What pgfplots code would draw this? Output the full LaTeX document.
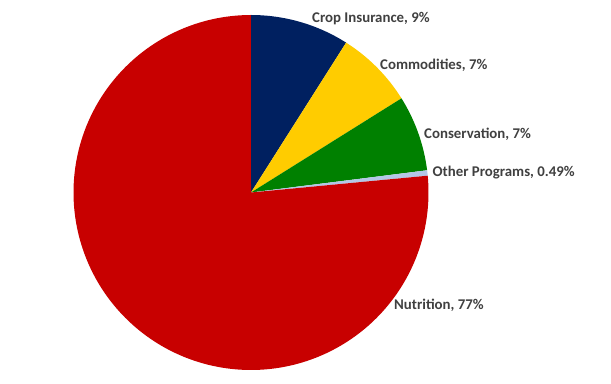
\documentclass[border=0pt]{standalone}
\usepackage{pgfplots}
\usepackage{pgfplotstable}
\pgfplotsset{compat=1.18}
\usepackage{fontspec}
\setmainfont{Carlito}
\definecolor{cCrop}{HTML}{002060}
\definecolor{cComm}{HTML}{FFCC00}
\definecolor{cCons}{HTML}{008000}
\definecolor{cOther}{HTML}{B4C7E7}
\definecolor{cNutr}{HTML}{C80000}
\definecolor{lbl}{HTML}{404040}
\pgfplotstableread{
name share
Crop 9.0
Comm 7.1
Cons 6.9
Other 0.49
Nutr 76.5
}\sharetable
\tikzset{lab/.style={font=\fontsize{14.9}{16}\selectfont\bfseries, text=lbl, anchor=west, inner sep=0pt}}
\begin{document}
\begin{tikzpicture}
\pgfplotstablegetelem{0}{share}\of\sharetable \let\sA\pgfplotsretval
\pgfplotstablegetelem{1}{share}\of\sharetable \let\sB\pgfplotsretval
\pgfplotstablegetelem{2}{share}\of\sharetable \let\sC\pgfplotsretval
\pgfplotstablegetelem{3}{share}\of\sharetable \let\sD\pgfplotsretval
\pgfplotstablegetelem{4}{share}\of\sharetable \let\sE\pgfplotsretval
\pgfmathsetmacro{\aZero}{90}
\pgfmathsetmacro{\aA}{90-3.6*\sA}
\pgfmathsetmacro{\aB}{\aA-3.6*\sB}
\pgfmathsetmacro{\aC}{\aB-3.6*\sC}
\pgfmathsetmacro{\aD}{\aC-3.6*\sD}
\pgfmathsetmacro{\aE}{\aD-3.6*\sE}
\def\cx{251}\def\cy{191.5}\def\rr{177.5}
\useasboundingbox (0,0) rectangle (611bp,384bp);
\begin{axis}[
  at={(0,0)}, anchor=south west,
  width=611bp, height=384bp, scale only axis,
  xmin=0, xmax=611, ymin=0, ymax=384,
  hide axis, clip=false,
]
\addplot[fill=cCrop, draw=none, domain=\aA:\aZero, samples=60, variable=\t] ({\cx+\rr*cos(\t)},{\cy+\rr*sin(\t)}) -- (axis cs:\cx,\cy) -- cycle;
\addplot[fill=cComm, draw=none, domain=\aB:\aA, samples=60, variable=\t] ({\cx+\rr*cos(\t)},{\cy+\rr*sin(\t)}) -- (axis cs:\cx,\cy) -- cycle;
\addplot[fill=cCons, draw=none, domain=\aC:\aB, samples=60, variable=\t] ({\cx+\rr*cos(\t)},{\cy+\rr*sin(\t)}) -- (axis cs:\cx,\cy) -- cycle;
\addplot[fill=cOther, draw=none, domain=\aD:\aC, samples=10, variable=\t] ({\cx+\rr*cos(\t)},{\cy+\rr*sin(\t)}) -- (axis cs:\cx,\cy) -- cycle;
\addplot[fill=cNutr, draw=none, domain=\aE:\aD, samples=240, variable=\t] ({\cx+\rr*cos(\t)},{\cy+\rr*sin(\t)}) -- (axis cs:\cx,\cy) -- cycle;
\node[lab] at (axis cs:312,365.5) {Crop Insurance, 9\%};
\node[lab] at (axis cs:380,319) {Commodities, 7\%};
\node[lab] at (axis cs:424,249.5) {Conservation, 7\%};
\node[lab] at (axis cs:432.5,211.5) {Other Programs, 0.49\%};
\node[lab] at (axis cs:394,78.5) {Nutrition, 77\%};
\end{axis}
\end{tikzpicture}
\end{document}
